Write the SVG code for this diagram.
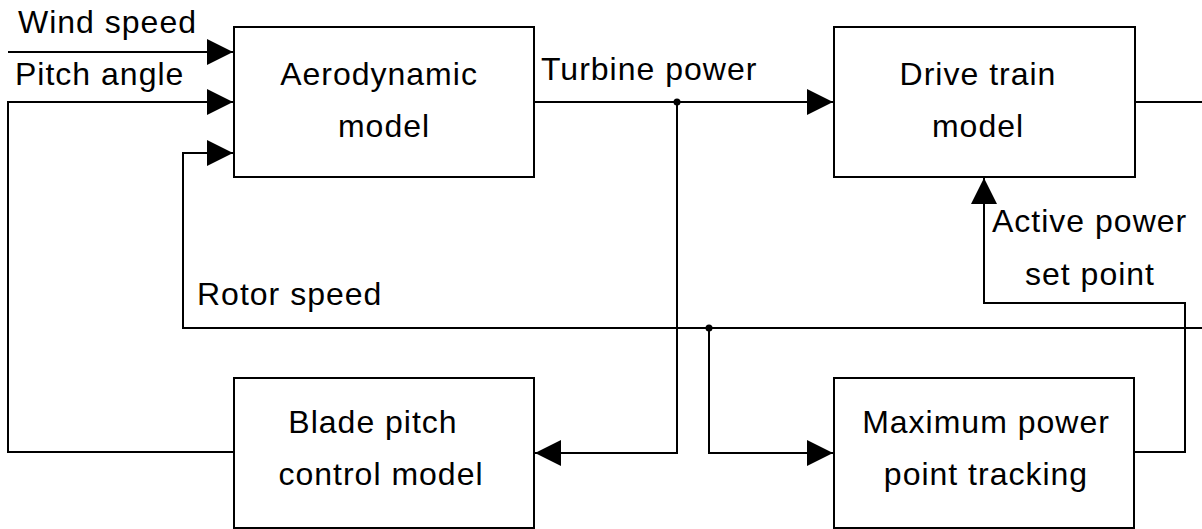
<svg xmlns="http://www.w3.org/2000/svg" width="1202" height="529" viewBox="0 0 1202 529">
<style>
.box{fill:#fff;stroke:#000;stroke-width:2}
.ln{fill:none;stroke:#000;stroke-width:2}
text{font-family:"Liberation Sans",Arial,sans-serif;font-size:32px;letter-spacing:1px;fill:#000}
.c{text-anchor:middle}
</style>
<defs>
<marker id="arr" viewBox="0 0 26 26" refX="26" refY="13" markerWidth="26" markerHeight="26" markerUnits="userSpaceOnUse" orient="auto">
<path d="M0,0 L26,13 L0,26 Z" fill="#000"/>
</marker>
</defs>
<rect width="1202" height="529" fill="#fff"/>
<g id="connectors">
<path class="ln" d="M8,52 H233" marker-end="url(#arr)"/>
<path class="ln" d="M234,452 H8 V102 H233" marker-end="url(#arr)"/>
<path class="ln" d="M1202,328 H183 V153 H233" marker-end="url(#arr)"/>
<path class="ln" d="M534,102 H833" marker-end="url(#arr)"/>
<path class="ln" d="M677,102 V453 H535" marker-end="url(#arr)"/>
<path class="ln" d="M709,328 V453 H833" marker-end="url(#arr)"/>
<path class="ln" d="M1134,452 H1185 V303 H984 V178" marker-end="url(#arr)"/>
<path class="ln" d="M1135,102 H1202"/>
<circle cx="677" cy="102" r="3.5" fill="#000"/>
<circle cx="709" cy="328" r="3.5" fill="#000"/>
</g>
<g id="aero">
<rect class="box" x="234" y="27" width="300" height="150"/>
<text class="c" x="379" y="85">Aerodynamic</text>
<text class="c" x="384" y="137">model</text>
</g>
<g id="drive">
<rect class="box" x="834" y="27" width="301" height="150"/>
<text class="c" x="978" y="85">Drive train</text>
<text class="c" x="978" y="137">model</text>
</g>
<g id="blade">
<rect class="box" x="234" y="378" width="300" height="150"/>
<text class="c" x="373" y="433">Blade pitch</text>
<text class="c" x="381" y="485">control model</text>
</g>
<g id="mppt">
<rect class="box" x="834" y="378" width="300" height="150"/>
<text class="c" x="986" y="433">Maximum power</text>
<text class="c" x="986" y="485">point tracking</text>
</g>
<g id="labels">
<text x="18" y="33">Wind speed</text>
<text x="15" y="85">Pitch angle</text>
<text x="541" y="80">Turbine power</text>
<text x="992" y="232">Active power</text>
<text x="1025" y="285">set point</text>
<text x="197" y="305">Rotor speed</text>
</g>
</svg>
